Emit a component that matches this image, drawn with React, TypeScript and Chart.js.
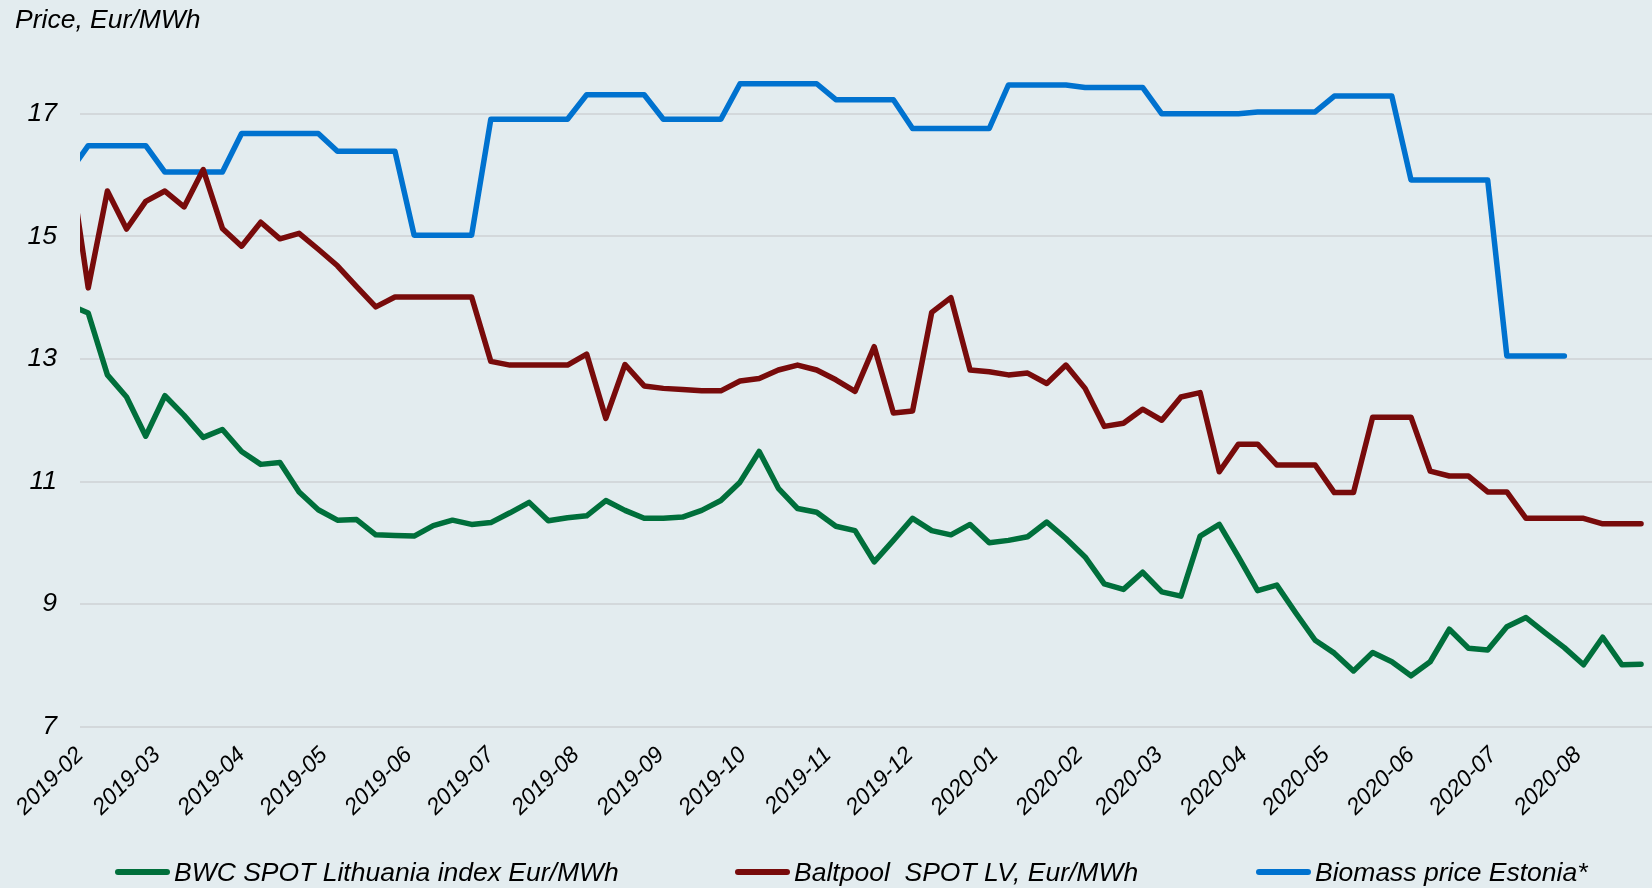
import React, { useEffect, useRef } from 'react';
import { Chart, registerables } from 'chart.js';

Chart.register(...registerables);

// Weekly observation dates (Mondays)
const weekDates = [
  '2019-01-28', '2019-02-04', '2019-02-11', '2019-02-18', '2019-02-25',
  '2019-03-04', '2019-03-11', '2019-03-18', '2019-03-25',
  '2019-04-01', '2019-04-08', '2019-04-15', '2019-04-22', '2019-04-29',
  '2019-05-06', '2019-05-13', '2019-05-20', '2019-05-27',
  '2019-06-03', '2019-06-10', '2019-06-17', '2019-06-24',
  '2019-07-01', '2019-07-08', '2019-07-15', '2019-07-22', '2019-07-29',
  '2019-08-05', '2019-08-12', '2019-08-19', '2019-08-26',
  '2019-09-02', '2019-09-09', '2019-09-16', '2019-09-23', '2019-09-30',
  '2019-10-07', '2019-10-14', '2019-10-21', '2019-10-28',
  '2019-11-04', '2019-11-11', '2019-11-18', '2019-11-25',
  '2019-12-02', '2019-12-09', '2019-12-16', '2019-12-23', '2019-12-30',
  '2020-01-06', '2020-01-13', '2020-01-20', '2020-01-27',
  '2020-02-03', '2020-02-10', '2020-02-17', '2020-02-24',
  '2020-03-02', '2020-03-09', '2020-03-16', '2020-03-23', '2020-03-30',
  '2020-04-06', '2020-04-13', '2020-04-20', '2020-04-27',
  '2020-05-04', '2020-05-11', '2020-05-18', '2020-05-25',
  '2020-06-01', '2020-06-08', '2020-06-15', '2020-06-22', '2020-06-29',
  '2020-07-06', '2020-07-13', '2020-07-20', '2020-07-27',
  '2020-08-03', '2020-08-10', '2020-08-17', '2020-08-24',
];

const bwcSpotLithuania = [
  13.88, 13.75, 12.74, 12.38, 11.74, 12.40, 12.08, 11.72, 11.85, 11.49,
  11.28, 11.31, 10.83, 10.54, 10.37, 10.38, 10.13, 10.12, 10.11, 10.28,
  10.37, 10.30, 10.33, 10.49, 10.66, 10.36, 10.41, 10.44, 10.69, 10.53,
  10.40, 10.40, 10.42, 10.53, 10.69, 10.99, 11.49, 10.89, 10.56, 10.50,
  10.27, 10.20, 9.69, 10.04, 10.40, 10.20, 10.13, 10.30, 10.00, 10.04,
  10.10, 10.34, 10.07, 9.77, 9.33, 9.24, 9.52, 9.20, 9.13, 10.11,
  10.30, 9.77, 9.22, 9.31, 8.85, 8.41, 8.20, 7.91, 8.21, 8.06,
  7.83, 8.06, 8.59, 8.28, 8.25, 8.63, 8.78, 8.53, 8.29, 8.01,
  8.46, 8.01, 8.02,
];

const baltpoolSpotLV = [
  16.30, 14.16, 15.74, 15.12, 15.57, 15.74, 15.48, 16.09, 15.13, 14.84,
  15.23, 14.96, 15.05, 14.79, 14.52, 14.18, 13.85, 14.01, 14.01, 14.01,
  14.01, 14.01, 12.96, 12.90, 12.90, 12.90, 12.90, 13.08, 12.03, 12.91,
  12.56, 12.52, 12.50, 12.48, 12.48, 12.64, 12.68, 12.82, 12.90, 12.82,
  12.66, 12.47, 13.20, 12.12, 12.15, 13.76, 14.00, 12.82, 12.79, 12.74,
  12.77, 12.60, 12.90, 12.52, 11.90, 11.95, 12.18, 12.00, 12.38, 12.45,
  11.16, 11.61, 11.61, 11.27, 11.27, 11.27, 10.82, 10.82, 12.05, 12.05,
  12.05, 11.17, 11.09, 11.09, 10.83, 10.83, 10.40, 10.40, 10.40, 10.40,
  10.31, 10.31, 10.31,
];

const biomassEstonia = [
  16.04, 16.48, 16.48, 16.48, 16.48, 16.05, 16.05, 16.05, 16.05, 16.68,
  16.68, 16.68, 16.68, 16.68, 16.39, 16.39, 16.39, 16.39, 15.02, 15.02,
  15.02, 15.02, 16.91, 16.91, 16.91, 16.91, 16.91, 17.31, 17.31, 17.31,
  17.31, 16.91, 16.91, 16.91, 16.91, 17.49, 17.49, 17.49, 17.49, 17.49,
  17.23, 17.23, 17.23, 17.23, 16.76, 16.76, 16.76, 16.76, 16.76, 17.47,
  17.47, 17.47, 17.47, 17.43, 17.43, 17.43, 17.43, 17.00, 17.00, 17.00,
  17.00, 17.00, 17.03, 17.03, 17.03, 17.03, 17.29, 17.29, 17.29, 17.29,
  15.92, 15.92, 15.92, 15.92, 15.92, 13.05, 13.05, 13.05, 13.05, null,
  null, null, null,
];

const monthTickLabels = [
  '2019-02', '2019-03', '2019-04', '2019-05', '2019-06', '2019-07',
  '2019-08', '2019-09', '2019-10', '2019-11', '2019-12', '2020-01',
  '2020-02', '2020-03', '2020-04', '2020-05', '2020-06', '2020-07', '2020-08',
];

const yTickValues = [7, 9, 11, 13, 15, 17];
const yMin = 7;
const yMax = 18;
const xMinDate = '2019-02-01';
const xMaxDate = '2020-08-28';

const seriesNames = [
  'BWC SPOT Lithuania index Eur/MWh',
  'Baltpool  SPOT LV, Eur/MWh',
  'Biomass price Estonia*',
];
const seriesColors = ['#006f3b', '#780b0b', '#0072cf'];
const titleText = 'Price, Eur/MWh';

const FONT = '"Liberation Sans", Arial, Helvetica, sans-serif';
const BG = '#e3ecef';

function toMs(s: string): number {
  const p = s.split('-').map(Number);
  return Date.UTC(p[0], p[1] - 1, p[2] || 1);
}

function toPoints(values: (number | null)[]) {
  return weekDates.map((d, i) => ({ x: toMs(d), y: values[i] }));
}

const legendLefts = [115, 735, 1256];

export default function App() {
  const canvasRef = useRef<HTMLCanvasElement | null>(null);

  useEffect(() => {
    if (!canvasRef.current) return;
    const seriesValues = [bwcSpotLithuania, baltpoolSpotLV, biomassEstonia];
    const chart = new Chart(canvasRef.current, {
      type: 'line',
      data: {
        datasets: seriesValues.map((vals, i) => ({
          label: seriesNames[i],
          data: toPoints(vals),
          borderColor: seriesColors[i],
          backgroundColor: seriesColors[i],
          borderWidth: 5.5,
          pointRadius: 0,
          pointHoverRadius: 0,
          tension: 0,
          fill: false,
          spanGaps: false,
          borderCapStyle: 'round',
          borderJoinStyle: 'round',
        })),
      },
      options: {
        responsive: false,
        animation: false,
        devicePixelRatio: 1,
        events: [],
        layout: { padding: { left: 15, right: 0, top: 0, bottom: 61.3 } },
        plugins: {
          legend: { display: false },
          tooltip: { enabled: false },
          title: {
            display: true,
            text: titleText,
            align: 'start',
            color: '#000',
            font: { family: FONT, size: 26.5, style: 'italic', weight: 'normal' },
            padding: { top: 5, bottom: 15.7 },
          },
        },
        scales: {
          x: {
            type: 'linear',
            min: toMs(xMinDate),
            max: toMs(xMaxDate),
            grid: { display: false, drawTicks: false },
            border: { display: false },
            afterBuildTicks: (scale: any) => {
              scale.ticks = monthTickLabels.map((l) => ({ value: toMs(l + '-01') }));
            },
            afterFit: (scale: any) => {
              scale.height = 100;
              scale.paddingLeft = 0;
              scale.paddingRight = 0;
            },
            ticks: {
              autoSkip: false,
              minRotation: 45,
              maxRotation: 45,
              padding: 15,
              color: '#000',
              font: { family: FONT, size: 23, style: 'italic' },
              callback: (_v: any, i: number) => monthTickLabels[i],
            },
          },
          y: {
            min: yMin,
            max: yMax,
            afterBuildTicks: (scale: any) => {
              scale.ticks = yTickValues.map((v) => ({ value: v }));
            },
            afterFit: (scale: any) => {
              scale.width = 65;
              scale.paddingTop = 0;
              scale.paddingBottom = 0;
            },
            grid: { color: '#d3d8db', lineWidth: 2, drawTicks: false },
            border: { display: false },
            ticks: {
              padding: 23,
              color: '#000',
              font: { family: FONT, size: 26.5, style: 'italic' },
              callback: (v: any) => String(v),
            },
          },
        },
      },
    } as any);
    return () => chart.destroy();
  }, []);

  return (
    <div
      style={{
        position: 'fixed',
        left: 0,
        top: 0,
        width: 1652,
        height: 888,
        background: BG,
        overflow: 'hidden',
      }}
    >
      <canvas ref={canvasRef} width={1652} height={888} style={{ display: 'block' }} />
      {seriesNames.map((name, i) => (
        <div
          key={name}
          style={{
            position: 'absolute',
            left: legendLefts[i],
            top: 852,
            height: 40,
            display: 'flex',
            alignItems: 'center',
            fontFamily: FONT,
            fontStyle: 'italic',
            fontSize: 26.5,
            color: '#000',
            whiteSpace: 'pre',
          }}
        >
          <span
            style={{
              display: 'inline-block',
              width: 55,
              height: 6,
              borderRadius: 3,
              background: seriesColors[i],
              marginRight: 4,
            }}
          />
          <span>{name}</span>
        </div>
      ))}
    </div>
  );
}
